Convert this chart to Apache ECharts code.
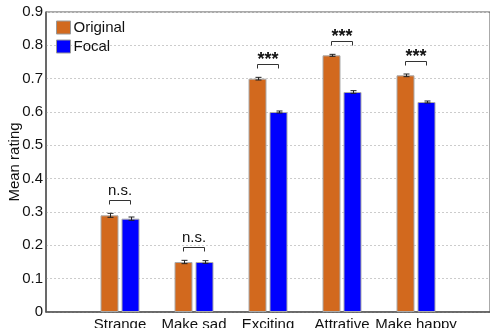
<!DOCTYPE html>
<html>
<head>
<meta charset="utf-8">
<script src="https://cdn.jsdelivr.net/npm/echarts@6/dist/echarts.min.js"></script>
<style>
  html, body { margin: 0; padding: 0; background: #fff; }
  #chart { width: 490px; height: 328px; }
</style>
</head>
<body>
<div id="chart"></div>
<script>
// Category slots: empty slots at both ends keep the bars off the frame edges
const categories = ['', 'Strange', 'Make sad', 'Exciting', 'Attrative', 'Make happy', ''];
const originalMean = [0.29, 0.15, 0.70, 0.77, 0.71];
const originalErr  = [0.006, 0.005, 0.004, 0.003, 0.004];
const focalMean    = [0.28, 0.15, 0.60, 0.66, 0.63];
const focalErr     = [0.005, 0.004, 0.003, 0.004, 0.003];
const sigLabels    = ['n.s.', 'n.s.', '***', '***', '***'];
const yTicks       = [0, 0.1, 0.2, 0.3, 0.4, 0.5, 0.6, 0.7, 0.8, 0.9];

const FONT = 'Liberation Sans, Arial, sans-serif';
const BAR_W = 18;
const BAR_GAP = 3;
const HALF = (BAR_W + BAR_GAP) / 2;

// bars occupy slots 1..5
const pad = (arr) => [null].concat(arr, [null]);

function errorBarRenderer(offset) {
  return function (params, api) {
    const x = api.value(0);
    const m = api.value(1);
    const e = api.value(2);
    const top = api.coord([x, m + e]);
    const bot = api.coord([x, m - e]);
    const cx = Math.round(top[0] + offset) + 0.5;
    const cap = 3;
    const style = { stroke: '#222', lineWidth: 1 };
    return {
      type: 'group',
      children: [
        { type: 'line', shape: { x1: cx, y1: top[1], x2: cx, y2: bot[1] }, style },
        { type: 'line', shape: { x1: cx - cap, y1: top[1], x2: cx + cap, y2: top[1] }, style },
        { type: 'line', shape: { x1: cx - cap, y1: bot[1], x2: cx + cap, y2: bot[1] }, style }
      ]
    };
  };
}

function bracketRenderer(params, api) {
  const x = api.value(0);
  const h = api.value(1);
  const p = api.coord([x, h]);
  const x1 = p[0] - HALF, x2 = p[0] + HALF, y = Math.round(p[1]) + 0.5;
  const label = sigLabels[params.dataIndex];
  const stars = label === '***';
  return {
    type: 'group',
    children: [
      { type: 'polyline', shape: { points: [[x1, y + 4], [x1, y], [x2, y], [x2, y + 4]] },
        style: { stroke: '#333', lineWidth: 1, fill: null } },
      { type: 'text', x: p[0], y: stars ? y + 5 : y - 2,
        style: { text: label, font: (stars ? 'bold 18px ' : '15px ') + FONT,
                 fill: '#111', align: 'center', verticalAlign: 'bottom' } }
    ]
  };
}

const errData = (means, errs) => means.map((m, i) => [i + 1, m, errs[i]]);
const bracketData = originalMean.map((m, i) =>
  [i + 1, Math.max(m + originalErr[i], focalMean[i] + focalErr[i]) + 0.04]);

const chart = echarts.init(document.getElementById('chart'), null, { renderer: 'canvas' });
chart.setOption({
  animation: false,
  textStyle: { fontFamily: FONT },
  grid: { left: 46, right: 0, top: 12, bottom: 16, show: true, containLabel: false,
          outerBoundsMode: 'none',
          borderColor: '#555', borderWidth: 1, backgroundColor: 'transparent' },
  legend: {
    orient: 'vertical', left: 51, top: 15, itemWidth: 14, itemHeight: 13, itemGap: 4,
    icon: 'rect',
    itemStyle: { borderColor: '#999', borderWidth: 1 },
    textStyle: { fontSize: 15, color: '#111', fontFamily: FONT, padding: [0, 0, 0, -2] },
    data: ['Original', 'Focal']
  },
  xAxis: {
    type: 'category', data: categories, boundaryGap: false,
    axisLine: { lineStyle: { color: '#555', width: 1.5 } },
    axisTick: { show: false },
    axisLabel: { fontSize: 15, color: '#111', margin: 5, interval: 0 },
    splitLine: { show: false }
  },
  yAxis: {
    type: 'value', min: 0, max: 0.9, interval: 0.1,
    name: 'Mean rating', nameLocation: 'middle', nameGap: 24, nameMoveOverlap: false,
    nameTextStyle: { fontSize: 15, color: '#111' },
    axisLine: { show: true, lineStyle: { color: '#555', width: 1.5 } },
    axisTick: { show: false },
    axisLabel: { fontSize: 15, color: '#111', margin: 3,
                 formatter: (v) => { const t = yTicks.find(k => Math.abs(k - v) < 1e-9); return t === undefined ? '' : String(t); } },
    splitLine: { show: true, lineStyle: { color: '#ccc', type: [2, 2], width: 1 } }
  },
  series: [
    { name: 'Original', type: 'bar', data: pad(originalMean), barWidth: BAR_W,
      barGap: (BAR_GAP / BAR_W * 100) + '%',
      itemStyle: { color: '#D2691E', borderColor: '#aaa', borderWidth: 1 } },
    { name: 'Focal', type: 'bar', data: pad(focalMean), barWidth: BAR_W,
      itemStyle: { color: '#0000FF', borderColor: '#aaa', borderWidth: 1 } },
    { type: 'custom', renderItem: errorBarRenderer(-HALF), data: errData(originalMean, originalErr), z: 5,
      encode: { x: 0, y: 1 } },
    { type: 'custom', renderItem: errorBarRenderer(HALF), data: errData(focalMean, focalErr), z: 5,
      encode: { x: 0, y: 1 } },
    { type: 'custom', renderItem: bracketRenderer, data: bracketData, z: 5,
      encode: { x: 0, y: 1 } }
  ]
});
</script>
</body>
</html>
